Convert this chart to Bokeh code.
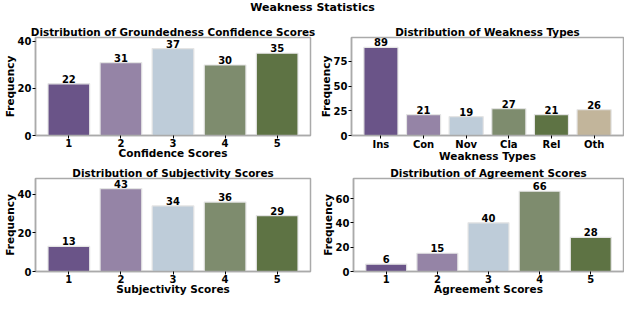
from bokeh.plotting import figure
from bokeh.layouts import column, row
from bokeh.models import Range1d, FixedTicker
from bokeh.core.properties import value
from bokeh.embed import file_html
from bokeh.resources import INLINE

# ---- data ----
main_title = "Weakness Statistics"

conf_labels = ["1", "2", "3", "4", "5"]
conf_values = [22, 31, 37, 30, 35]

type_labels = ["Ins", "Con", "Nov", "Cla", "Rel", "Oth"]
type_values = [89, 21, 19, 27, 21, 26]

subj_labels = ["1", "2", "3", "4", "5"]
subj_values = [13, 43, 34, 36, 29]

agree_labels = ["1", "2", "3", "4", "5"]
agree_values = [6, 15, 40, 66, 28]

palette = ["#6A5488", "#9584A6", "#BECCD9", "#7E8C6E", "#5E7344", "#C2B59B"]

FONT = "DejaVu Sans"
FRAME = "#AAAAAA"


def panel(title, labels, values, xlabel, ymax, yticks, width, height,
          b_left, b_right, b_top, b_bottom):
    n = len(labels)
    xs = list(range(1, n + 1))
    pad = 0.64 if n == 5 else 0.69
    p = figure(width=width, height=height, output_backend="svg", toolbar_location=None,
               x_range=Range1d(1 - pad, n + pad), y_range=Range1d(0, ymax),
               min_border_left=b_left, min_border_right=b_right,
               min_border_top=b_top, min_border_bottom=b_bottom)
    p.vbar(x=xs, top=values, width=0.8, bottom=0,
           fill_color=palette[:n], line_color="#E4E4E4", line_width=1.2)
    p.text(x=xs, y=values, text=[str(v) for v in values],
           text_align="center", text_baseline="bottom", y_offset=-1,
           text_font=value(FONT), text_font_style="bold",
           text_font_size="10px", text_color="black")
    p.title.text = title
    p.title.align = "center"
    p.title.text_font = FONT
    p.title.text_font_style = "bold"
    p.title.text_font_size = "10.4px"
    p.title.text_color = "black"
    p.title.standoff = 0
    p.title.offset = 0
    p.xgrid.visible = False
    p.ygrid.visible = False
    p.outline_line_color = FRAME
    p.outline_line_width = 1.5
    for ax in (p.xaxis[0], p.yaxis[0]):
        ax.axis_line_color = FRAME
        ax.axis_line_width = 1.5
        ax.major_tick_line_color = "black"
        ax.major_tick_out = 3
        ax.major_tick_in = 0
        ax.minor_tick_line_color = None
        ax.major_label_text_font = FONT
        ax.major_label_text_font_style = "bold"
        ax.major_label_text_font_size = "10px"
        ax.major_label_text_color = "black"
        ax.axis_label_text_font = FONT
        ax.axis_label_text_font_style = "bold"
        ax.axis_label_text_font_size = "10.5px"
        ax.axis_label_text_color = "black"
    p.xaxis.major_label_standoff = 0
    p.xaxis.axis_label_standoff = -3
    p.yaxis.major_label_standoff = 1
    p.yaxis.axis_label_standoff = -1
    p.xaxis.ticker = FixedTicker(ticks=xs)
    p.xaxis.major_label_overrides = {i + 1: lab for i, lab in enumerate(labels)}
    p.xaxis.axis_label = xlabel
    p.yaxis.ticker = FixedTicker(ticks=yticks)
    p.yaxis.axis_label = "Frequency"
    return p


p1 = panel("Distribution of Groundedness Confidence Scores", conf_labels, conf_values,
           "Confidence Scores", 41.7, [0, 20, 40], 316, 151, 35, 6, 24, 29)
p2 = panel("Distribution of Weakness Types", type_labels, type_values,
           "Weakness Types", 99, [0, 25, 50, 75], 308, 151, 35, 1, 24, 29)
p3 = panel("Distribution of Subjectivity Scores", subj_labels, subj_values,
           "Subjectivity Scores", 48.2, [0, 20, 40], 316, 136, 35, 6, 14, 29)
p4 = panel("Distribution of Agreement Scores", agree_labels, agree_values,
           "Agreement Scores", 76.5, [0, 20, 40, 60], 308, 136, 37, 1, 14, 29)

t = figure(width=624, height=13, output_backend="svg", toolbar_location=None,
           x_range=Range1d(0, 1), y_range=Range1d(0, 1), min_border=0)
t.axis.visible = False
t.grid.visible = False
t.outline_line_color = None
t.text(x=[0.5], y=[0.5], text=[main_title], text_align="center",
       text_baseline="middle", text_font=value(FONT), text_font_style="bold",
       text_font_size="11px", text_color="black")

layout = column(t, row(p1, p2), row(p3, p4), spacing=0)

open("out.html", "w").write(file_html(layout, INLINE))
